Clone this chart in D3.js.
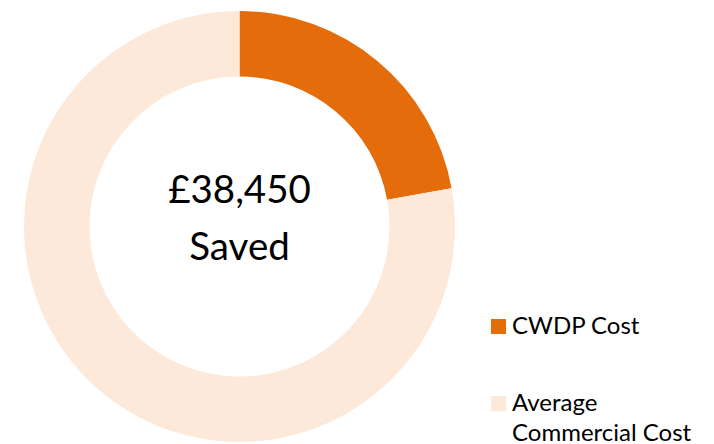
<!DOCTYPE html>
<html>
<head>
  <script src="https://cdn.jsdelivr.net/npm/d3@7"></script>
  <style>
    body { margin: 0; background: #fff; font-family: Lato, "Open Sans", sans-serif; }
  </style>
</head>
<body>
  <div id="chart"></div>
  <script>
    const categories = ["CWDP Cost", "Average Commercial Cost"];
    const values = [15300, 53750];
    const colors = ["#E46C0A", "#FDE9D9"];
    const centerLines = ["£38,450", "Saved"];
    const legendLines = [["CWDP Cost"], ["Average", "Commercial Cost"]];

    const width = 714, height = 444;
    const cx = 239.5, cy = 226.5;
    const outerR = 215.5, innerR = 150;

    const svg = d3.select("#chart").append("svg")
      .attr("width", width)
      .attr("height", height);

    const pie = d3.pie().sort(null).value(d => d);
    const arc = d3.arc().innerRadius(innerR).outerRadius(outerR);

    const g = svg.append("g").attr("transform", `translate(${cx},${cy})`);
    g.selectAll("path")
      .data(pie(values))
      .enter().append("path")
      .attr("d", arc)
      .attr("fill", (d, i) => colors[i]);

    // centre label
    g.append("text")
      .attr("text-anchor", "middle")
      .attr("font-size", 38.5)
      .attr("fill", "#000")
      .selectAll("tspan")
      .data(centerLines)
      .enter().append("tspan")
      .attr("x", 0)
      .attr("y", (d, i) => -24 + i * 57)
      .text(d => d);

    // legend
    const legend = svg.append("g").attr("transform", "translate(491,0)");
    const rowY = [319, 396];
    const item = legend.selectAll("g")
      .data(categories)
      .enter().append("g")
      .attr("transform", (d, i) => `translate(0,${rowY[i]})`);

    item.append("rect")
      .attr("width", 15)
      .attr("height", 15)
      .attr("fill", (d, i) => colors[i]);

    item.append("text")
      .attr("font-size", 24)
      .attr("fill", "#000")
      .selectAll("tspan")
      .data((d, i) => legendLines[i])
      .enter().append("tspan")
      .attr("x", 21)
      .attr("y", (d, i) => 15 + i * 30)
      .text(d => d);
  </script>
</body>
</html>
